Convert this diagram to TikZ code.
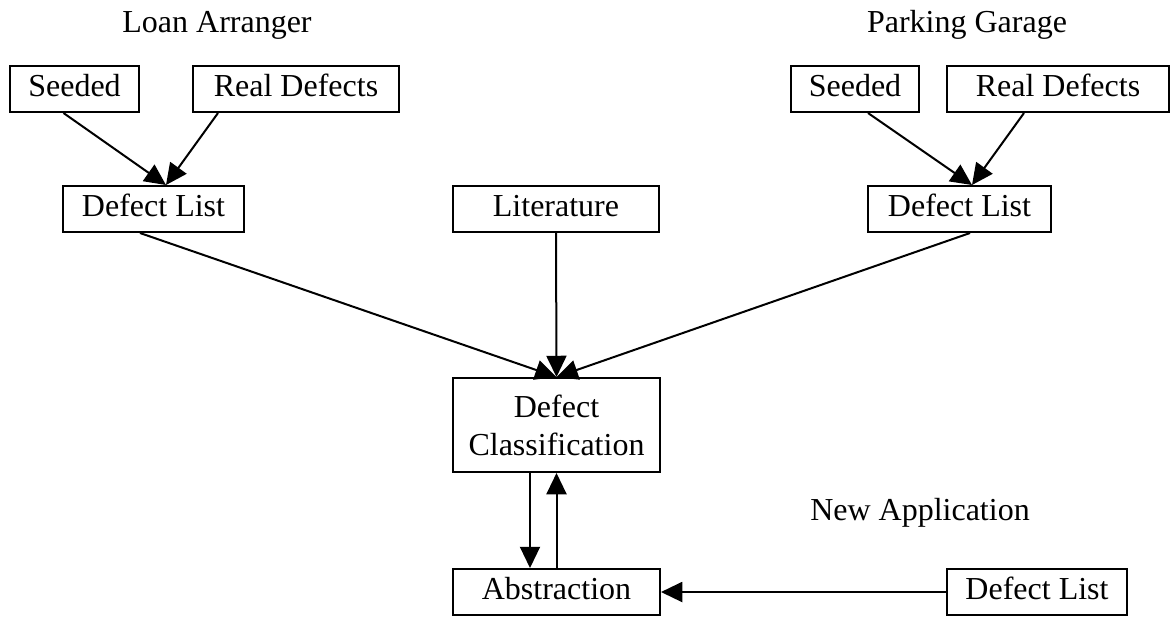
\documentclass[tikz,border=0pt]{standalone}
\usepackage{fontspec}
\setmainfont{Liberation Serif}
\usetikzlibrary{arrows.meta,calc}

\begin{document}
\begin{tikzpicture}[x=0.4pt,y=-0.4pt,
  every node/.style={font=\fontsize{12.8}{15.2}\selectfont},
  box/.style={draw,line width=0.8pt,inner sep=0pt,minimum height=18.4pt,text height=8.6pt,text depth=2.4pt},
  bigbox/.style={draw,line width=0.8pt,inner sep=0pt,align=center},
  flow/.style={line width=0.8pt,-{Triangle[length=8.5pt,width=8pt]}}]
\useasboundingbox (0,0) rectangle (1172,616);
\node[anchor=base] (loan) at (217,32) {Loan Arranger};
\node[anchor=base] (park) at (967,32) {Parking Garage};
\node[anchor=base] (newapp) at (920,520) {New Application};
\node[box,minimum width=51.6pt] (seedA) at (74.5,89) {Seeded};
\node[box,minimum width=82.4pt] (realA) at (296,89) {Real Defects};
\node[box,minimum width=72.4pt] (listA) at (153.5,209) {Defect List};
\node[box,minimum width=82.4pt] (lit) at (556,209) {Literature};
\node[box,minimum width=51.2pt] (seedB) at (855,89) {Seeded};
\node[box,minimum width=88.8pt] (realB) at (1058,89) {Real Defects};
\node[box,minimum width=73.2pt] (listB) at (959.5,209) {Defect List};
\node[bigbox,minimum width=82.8pt,minimum height=37.6pt] (cls) at (556.5,425) {Defect\\Classification};
\node[box,minimum width=82.8pt] (abs) at (556.5,592) {Abstraction};
\node[box,minimum width=72pt] (listC) at (1037,592) {Defect List};
\draw[flow] ($(seedA.south)+(-11,0)$) -- ($(listA.north)+(12.5,0)$);
\draw[flow] ($(realA.south west)+(26,0)$) -- ($(listA.north)+(12.5,0)$);
\draw[flow] ($(seedB.south)+(13,0)$) -- ($(listB.north)+(12.5,0)$);
\draw[flow] ($(realB.south west)+(78,0)$) -- ($(listB.north)+(12.5,0)$);
\draw[flow] ($(listA.south)+(-13.5,0)$) -- (cls.north);
\draw[flow] (lit.south) -- (cls.north);
\draw[flow] ($(listB.south)+(10.5,0)$) -- (cls.north);
\draw[flow] ($(cls.south)+(-26.5,0)$) -- ($(abs.north)+(-26.5,0)$);
\draw[flow] (abs.north) -- (cls.south);
\draw[flow] (listC.west) -- (abs.east);
\end{tikzpicture}
\end{document}
